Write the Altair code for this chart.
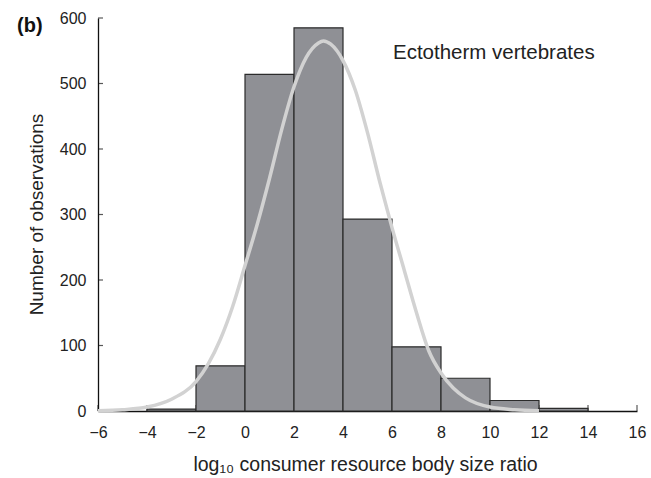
import altair as alt
import pandas as pd

# Histogram bins (log10 consumer/resource body size ratio) and counts
bin_start = [-4, -2, 0, 2, 4, 6, 8, 10, 12]
bin_end = [-2, 0, 2, 4, 6, 8, 10, 12, 14]
counts = [3, 69, 514, 585, 293, 98, 50, 16, 4]

# Fitted normal curve, sampled along the x axis
curve_x = [-6, -5, -4, -3, -2, -1.5, -1, -0.5, 0, 0.5, 1, 1.5, 2, 2.5, 3, 3.2,
           3.5, 4, 4.5, 5, 5.5, 6, 6.5, 7, 7.5, 8, 8.5, 9, 10, 11, 12]
curve_y = [0.5, 2, 6, 18, 45, 72, 110, 160, 222, 285, 355, 430, 495, 540, 562, 565,
           560, 535, 490, 425, 350, 280, 215, 150, 92, 58, 35, 20, 6, 2, 0.5]

x_ticks = [-6, -4, -2, 0, 2, 4, 6, 8, 10, 12, 14, 16]
y_ticks = [0, 100, 200, 300, 400, 500, 600]

panel_label = "(b)"
annotation = "Ectotherm vertebrates"
x_title = "log\u2081\u2080 consumer resource body size ratio"
y_title = "Number of observations"

FONT = "Liberation Sans"

bars_df = pd.DataFrame({"start": bin_start, "end": bin_end, "count": counts})
curve_df = pd.DataFrame({"x": curve_x, "y": curve_y})
xt_df = pd.DataFrame({"v": x_ticks, "zero": [0] * len(x_ticks)})
yt_df = pd.DataFrame({"v": y_ticks, "left": [-6] * len(y_ticks)})

x_scale = alt.Scale(domain=[-6, 16], nice=False, zero=False)
y_scale = alt.Scale(domain=[0, 600], nice=False)

x_axis = alt.Axis(
    values=x_ticks, ticks=False, grid=False, domainColor="#111", domainWidth=1.3,
    labelFont=FONT, labelFontSize=16, labelColor="#222", labelPadding=13,
    title=x_title, titleFont=FONT, titleFontSize=19.5, titleFontWeight="normal",
    titleColor="#222", titleX=267, titleY=59, titleAlign="center",
    titleBaseline="alphabetic", labelFlush=False,
)
y_axis = alt.Axis(
    values=y_ticks, ticks=False, grid=False, domainColor="#111", domainWidth=1.3,
    labelFont=FONT, labelFontSize=16, labelColor="#222", labelPadding=12,
    title=y_title, titleFont=FONT, titleFontSize=19, titleFontWeight="normal",
    titleColor="#222", titleX=-62, titleY=196, titleAngle=270, titleAlign="center",
    titleBaseline="middle", labelFlush=False,
)

# Inward tick marks on both axes
x_tick_marks = alt.Chart(xt_df).mark_tick(
    orient="vertical", size=6, thickness=1.2, color="#111", yOffset=-3
).encode(
    x=alt.X("v:Q", scale=x_scale, axis=x_axis),
    y=alt.Y("zero:Q", scale=y_scale, axis=y_axis),
)
y_tick_marks = alt.Chart(yt_df).mark_tick(
    orient="horizontal", size=5, thickness=1.2, color="#111", xOffset=2.5
).encode(
    x=alt.X("left:Q", scale=x_scale),
    y=alt.Y("v:Q", scale=y_scale),
)

bars = alt.Chart(bars_df).mark_bar(
    color="#8f9095", stroke="#2b2b2b", strokeWidth=1.2
).encode(
    x=alt.X("start:Q", scale=x_scale),
    x2="end:Q",
    y=alt.Y("count:Q", scale=y_scale),
    y2=alt.datum(0),
)

curve = alt.Chart(curve_df).mark_line(
    color="#d2d2d2", strokeWidth=3.5, interpolate="monotone"
).encode(
    x=alt.X("x:Q", scale=x_scale),
    y=alt.Y("y:Q", scale=y_scale),
)

note = alt.Chart(pd.DataFrame({"t": [annotation]})).mark_text(
    font=FONT, fontSize=20.5, color="#222", align="left", baseline="alphabetic"
).encode(text="t:N", x=alt.value(295), y=alt.value(41))

panel = alt.Chart(pd.DataFrame({"t": [panel_label]})).mark_text(
    font=FONT, fontSize=20, fontWeight="bold", color="#111", align="left",
    baseline="alphabetic"
).encode(text="t:N", x=alt.value(-81), y=alt.value(14))

chart = alt.layer(x_tick_marks, y_tick_marks, bars, curve, note, panel).properties(
    width=539,
    height=393,
    autosize=alt.AutoSizeParams(type="none"),
    padding={"left": 98, "top": 18, "right": 14, "bottom": 67},
    background="white",
).configure_view(stroke=None)

chart.save("out.html", embed_options={"renderer": "svg", "actions": False})
